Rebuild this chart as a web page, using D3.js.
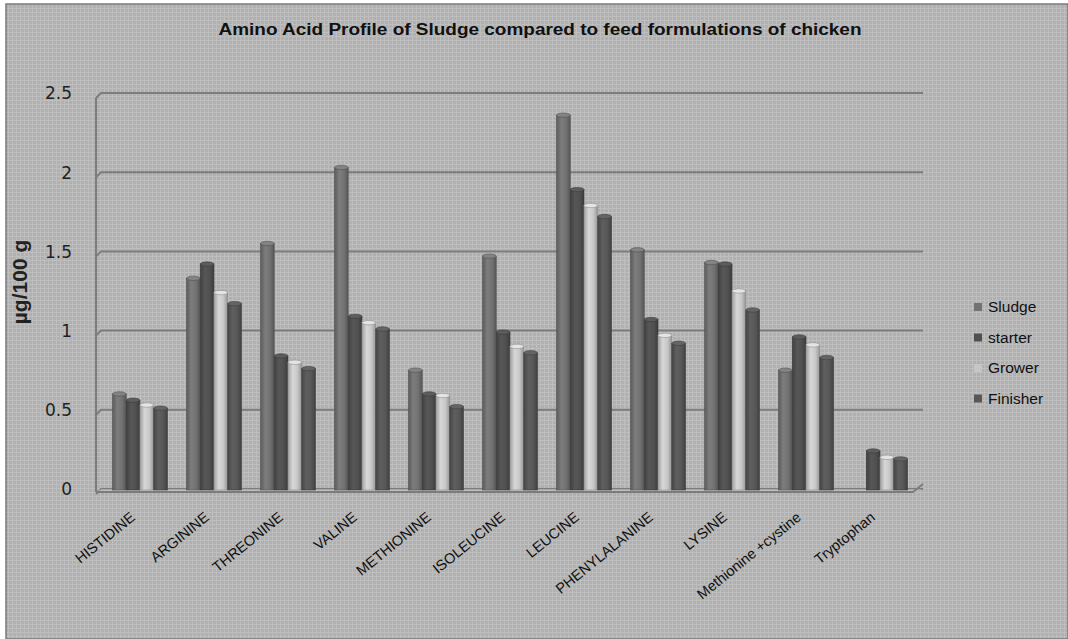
<!DOCTYPE html>
<html><head><meta charset="utf-8">
<script src="https://cdn.jsdelivr.net/npm/d3@7"></script>
<style>html,body{margin:0;padding:0;background:#fff;}svg{display:block;}</style>
</head><body>
<script>
const categories = ["HISTIDINE","ARGININE","THREONINE","VALINE","METHIONINE","ISOLEUCINE","LEUCINE","PHENYLALANINE","LYSINE","Methionine +cystine","Tryptophan"];
const seriesNames = ["Sludge","starter","Grower","Finisher"];
const sludge   = [0.60, 1.33, 1.55, 2.03, 0.75, 1.47, 2.36, 1.51, 1.43, 0.75, null];
const starter  = [0.56, 1.42, 0.84, 1.09, 0.60, 0.99, 1.89, 1.07, 1.42, 0.96, 0.24];
const grower   = [0.53, 1.24, 0.80, 1.05, 0.59, 0.90, 1.79, 0.97, 1.25, 0.91, 0.20];
const finisher = [0.51, 1.17, 0.76, 1.01, 0.52, 0.86, 1.72, 0.92, 1.13, 0.83, 0.19];
const yTicks = [0, 0.5, 1, 1.5, 2, 2.5];
const yTickLabels = ["0","0.5","1","1.5","2","2.5"];
const seriesValues = [sludge, starter, grower, finisher];
const seriesColors = ["#727272","#505050","#c6c6c6","#575757"];

const W = 1068, H = 639;
const svg = d3.select("body").append("svg").attr("width", W).attr("height", H);
const defs = svg.append("defs");

const pat = defs.append("pattern").attr("id","tex").attr("width",4).attr("height",4).attr("patternUnits","userSpaceOnUse");
pat.append("rect").attr("width",4).attr("height",4).attr("fill","#b0b0b0");
pat.append("rect").attr("width",4).attr("height",1).attr("fill","#bebebe");
pat.append("rect").attr("width",1).attr("height",4).attr("fill","#bebebe");

svg.append("rect").attr("x",6).attr("y",4).attr("width",W-6).attr("height",H-4)
  .attr("fill","url(#tex)").attr("stroke","#7a7a7a").attr("stroke-width",1.5);

seriesColors.forEach((c,i)=>{
  const g = defs.append("linearGradient").attr("id","g"+i).attr("x1","0").attr("x2","1").attr("y1","0").attr("y2","0");
  const base = d3.color(c);
  g.append("stop").attr("offset","0%").attr("stop-color", base.darker(0.6));
  g.append("stop").attr("offset","35%").attr("stop-color", base.brighter(0.25));
  g.append("stop").attr("offset","70%").attr("stop-color", base);
  g.append("stop").attr("offset","100%").attr("stop-color", base.darker(0.8));
});

const y = d3.scaleLinear().domain([0,2.5]).range([489,93]);
const x0 = d3.scaleBand().domain(categories).range([103,917]).paddingInner(0.257).paddingOuter(0.128);
const x1 = d3.scaleBand().domain(seriesNames).range([0, x0.bandwidth()]);

svg.append("text").attr("x",540).attr("y",35).attr("text-anchor","middle")
  .attr("font-family","Liberation Sans, Arial, sans-serif").attr("font-weight","bold")
  .attr("font-size",16).attr("fill","#111").attr("textLength",643).attr("lengthAdjust","spacingAndGlyphs")
  .text("Amino Acid Profile of Sludge compared to feed formulations of chicken");

const gridCol = "#7c7c7c";
const wallX = 96, backX = 101, rightX = 923;
svg.append("line").attr("x1",wallX).attr("x2",wallX).attr("y1",y(2.5)+5).attr("y2",y(0)+3)
  .attr("stroke",gridCol).attr("stroke-width",2);
yTicks.forEach(t=>{
  svg.append("path").attr("d",`M${wallX},${y(t)+5} L${backX},${y(t)} L${rightX},${y(t)}`)
    .attr("fill","none").attr("stroke",gridCol).attr("stroke-width",2);
});
svg.append("path").attr("d",`M${backX},${y(0)} L${rightX},${y(0)} L${rightX-10},${y(0)+3} L${wallX},${y(0)+3} Z`)
  .attr("fill","#c4c4c4").attr("opacity",0.6);
svg.append("path").attr("d",`M${wallX},${y(0)+3} L${rightX-10},${y(0)+3} L${rightX},${y(0)-5}`)
  .attr("fill","none").attr("stroke",gridCol).attr("stroke-width",2);

const yAxis = d3.axisLeft(y).tickValues(yTicks).tickFormat((d,i)=>yTickLabels[i]).tickSize(0).tickPadding(0);
const ga = svg.append("g").attr("transform","translate(72,0)").call(yAxis);
ga.select(".domain").remove();
ga.selectAll("text").attr("font-family","DejaVu Sans, sans-serif").attr("font-size",17).attr("fill","#222").attr("dy","0.35em");

svg.append("text").attr("transform","translate(27,282) rotate(-90)").attr("text-anchor","middle")
  .attr("font-family","Liberation Sans, Arial, sans-serif").attr("font-weight","bold").attr("font-size",21).attr("fill","#222")
  .text("µg/100 g");

const groups = svg.append("g").selectAll("g").data(categories).join("g")
  .attr("transform",d=>`translate(${x0(d)},0)`);
groups.each(function(cat,ci){
  const g = d3.select(this);
  seriesNames.forEach((s,si)=>{
    const v = seriesValues[si][ci];
    if (v == null) return;
    const bx = x1(s), bw = x1.bandwidth();
    const top = y(v), base = y(0)+1;
    g.append("rect").attr("x",bx).attr("y",top).attr("width",bw).attr("height",base-top)
      .attr("fill",`url(#g${si})`).attr("stroke",d3.color(seriesColors[si]).darker(0.9)).attr("stroke-width",0.6);
    g.append("ellipse").attr("cx",bx+bw/2).attr("cy",top).attr("rx",bw/2).attr("ry",2.2)
      .attr("fill",d3.color(seriesColors[si]).brighter(0.4)).attr("stroke",d3.color(seriesColors[si]).darker(0.9)).attr("stroke-width",0.6);
  });
});

svg.append("g").selectAll("text").data(categories).join("text")
  .attr("transform",d=>`translate(${x0(d)+x0.bandwidth()/2-4},${519}) rotate(-39)`)
  .attr("text-anchor","end")
  .attr("font-family","Liberation Sans, Arial, sans-serif").attr("font-size",14.5).attr("fill","#111")
  .text(d=>d);

const lg = svg.append("g").selectAll("g").data(seriesNames).join("g")
  .attr("transform",(d,i)=>`translate(974,${307+i*30.5})`);
lg.append("rect").attr("x",0).attr("y",-4).attr("width",8).attr("height",8)
  .attr("fill",(d,i)=>seriesColors[i]);
lg.append("text").attr("x",14).attr("y",0).attr("dy","0.35em")
  .attr("font-family","Liberation Sans, Arial, sans-serif").attr("font-size",15.5).attr("fill","#111")
  .text(d=>d);
</script>
</body></html>
